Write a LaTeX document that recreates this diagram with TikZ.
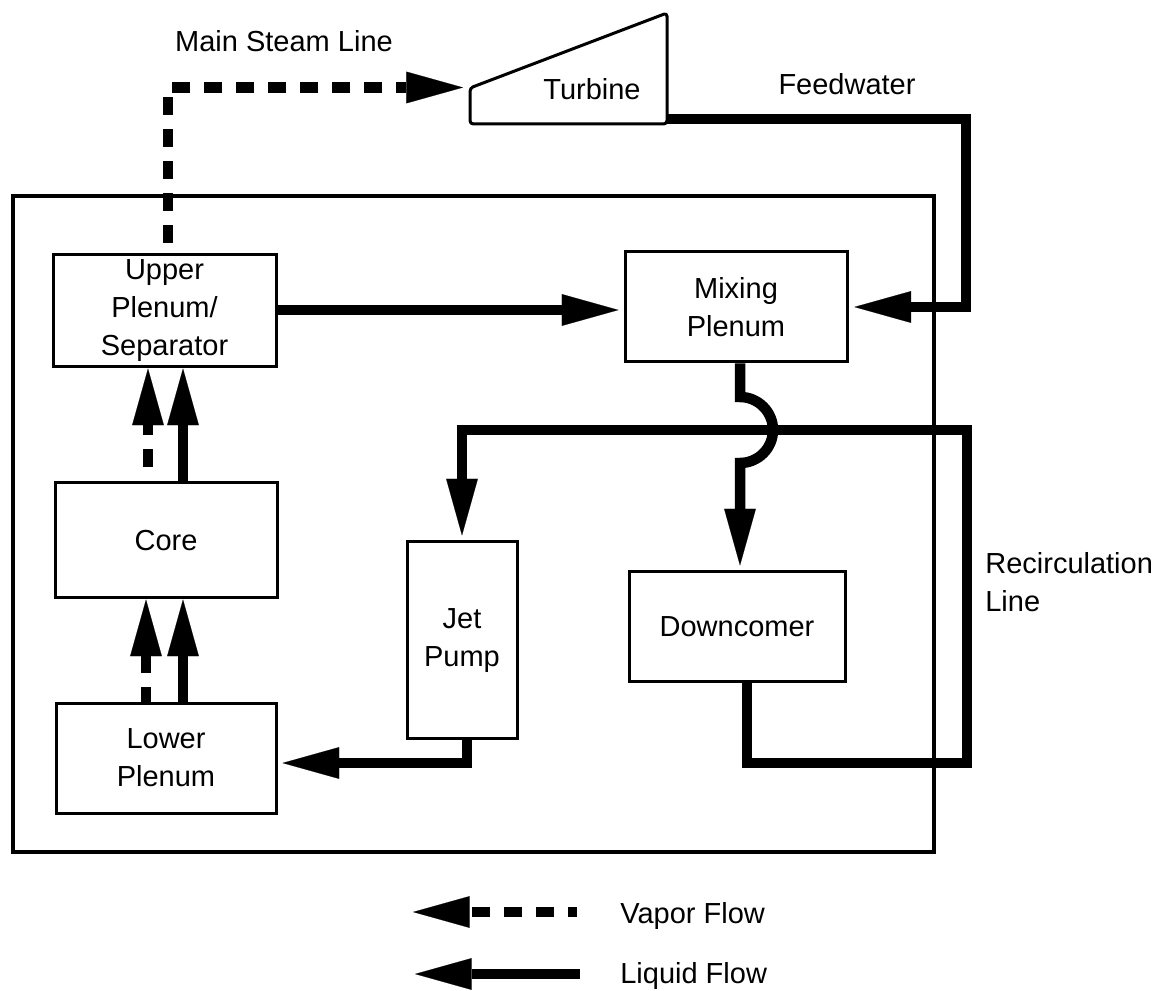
\documentclass[tikz,border=0pt]{standalone}
\usepackage{fontspec}
\setmainfont{Liberation Sans}
\usetikzlibrary{arrows.meta}
\newcommand{\diaglbl}{\fontsize{17.4pt}{22.8pt}\selectfont}
\tikzset{
  blk/.style={draw, line width=1.8pt, align=center, font=\diaglbl, inner sep=0pt},
  lbl/.style={font=\diaglbl, inner sep=0pt},
  flow/.style={line width=6.3pt, -{Triangle[length=34pt,width=19pt,line width=0.1pt]}},
  liq/.style={flow},
  vap/.style={flow, dash pattern=on 10.8pt off 8.4pt},
}
\begin{document}
\begin{tikzpicture}[x=0.6pt,y=-0.6pt]
\useasboundingbox (0,0) rectangle (1168,991);

% vessel
\node[draw, line width=2.2pt, minimum width=552.6pt, minimum height=393.6pt, inner sep=0pt] (vessel) at (473.5,524) {};

% boxes
\node[blk, minimum width=133.8pt, minimum height=67.2pt] (up) at (164.5,311) {Upper\\Plenum/\\Separator};
\node[blk, minimum width=133.2pt, minimum height=66pt] (mix) at (736,307) {Mixing\\Plenum};
\node[blk, minimum width=133.2pt, minimum height=69pt] (core) at (166,540.5) {Core};
\node[blk, minimum width=132pt, minimum height=66pt] (low) at (166,758) {Lower\\Plenum};
\node[blk, minimum width=66pt, minimum height=118.2pt] (jet) at (462,640.5) {Jet\\Pump};
\node[blk, minimum width=129.6pt, minimum height=66pt] (down) at (737,627) {Downcomer};

% turbine
\draw[line width=1.8pt, rounded corners=2pt] (470,124) -- (470,88) -- (667,13) -- (667,124) -- cycle;
\node[lbl, anchor=base] (turb) at (592,100) {Turbine};
\coordinate (turbL) at (463,87.5);
\coordinate (turbR) at (667,119);

% labels
\node[lbl, anchor=base] (msl) at (284,52) {Main Steam Line};
\node[lbl, anchor=base] (fwl) at (847,95) {Feedwater};
\node[lbl, anchor=north west, align=left] (rcl) at (985,552) {Recirculation\\Line};

% main steam line
\draw[vap, dash phase=12.9pt] (up.north -| 168,0) |- (turbL);

% feedwater
\coordinate (fw) at (966,307);
\draw[liq, shorten >=3.5pt] (turbR) -| (fw) -- (mix.east |- fw);

% upper plenum -> mixing plenum
\draw[liq, shorten >=3pt] (up.east |- 0,310) -- (mix.west |- 0,310);

% core -> upper plenum
\draw[vap, dash phase=10.8pt] (core.north -| 148,0) -- (up.south -| 148,0);
\draw[liq] (core.north -| 183,0) -- (up.south -| 183,0);

% lower plenum -> core
\draw[vap, dash phase=1.8pt] (low.north -| 146,0) -- (core.south -| 146,0);
\draw[liq] (low.north -| 183,0) -- (core.south -| 183,0);

% jet pump -> lower plenum
\draw[liq, shorten >=3pt] (jet.south -| 467,0) |- (low.east |- 0,763);

% mixing plenum -> downcomer (with jump)
\coordinate (j1) at (740,397);
\coordinate (j2) at (740,463);
\draw[liq, shorten >=3pt] (mix.south -| j1) -- (j1) .. controls (758.2,397) and (773,411.8) .. (773,430) .. controls (773,448.2) and (758.2,463) .. (j2) -- (down.north -| j2);

% recirculation line
\coordinate (rc1) at (967,763);
\coordinate (rc2) at (967,430);
\draw[liq, shorten >=3pt] (down.south -| 747,0) |- (rc1) -- (rc2) -| (jet.north);

% legend
\coordinate (lv1) at (577,912);
\coordinate (lv2) at (413,912);
\coordinate (ll1) at (580,974);
\coordinate (ll2) at (415,974);
\draw[vap, dash phase=5.4pt] (lv1) -- (lv2);
\draw[liq] (ll1) -- (ll2);
\node[lbl, anchor=base west] (vfl) at (620,923) {Vapor Flow};
\node[lbl, anchor=base west] (lfl) at (620,983) {Liquid Flow};
\end{tikzpicture}
\end{document}
